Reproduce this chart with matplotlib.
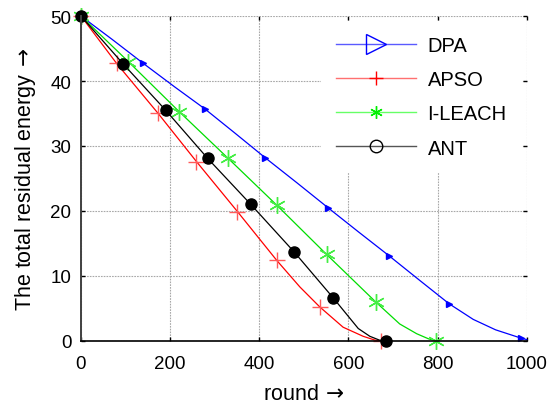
import matplotlib
matplotlib.use('Agg')
import matplotlib.pyplot as plt
from matplotlib.lines import Line2D

plt.rcParams['font.family'] = ['Liberation Sans', 'DejaVu Sans']
plt.rcParams['mathtext.fontset'] = 'dejavusans'

# data (round, residual energy)
dpa_x = [0, 70, 140, 210, 278, 345, 413, 485, 554, 622, 691, 760, 826, 880, 930, 988, 1000]
dpa_y = [50, 46.4, 42.7, 39.1, 35.7, 32.0, 28.2, 24.3, 20.5, 16.8, 13.1, 9.3, 5.7, 3.3, 1.7, 0.4, 0.2]
dpa_marks = [0, 2, 4, 6, 8, 10, 12, 15]

apso_x = [0, 80, 172, 259, 351, 439, 491, 536, 588, 633, 660, 674, 690]
apso_y = [50, 42.7, 35.1, 27.6, 19.9, 12.4, 8.3, 5.2, 2.1, 0.7, 0.1, 0, 0]
apso_marks = [0, 1, 2, 3, 4, 5, 7, 11]

ileach_x = [0, 106, 220, 330, 439, 551, 661, 715, 753, 780, 797]
ileach_y = [50, 43.0, 35.3, 28.1, 20.9, 13.3, 6.0, 2.6, 1.1, 0.3, 0]
ileach_marks = [0, 1, 2, 3, 4, 5, 6, 10]

ant_x = [0, 95, 190, 284, 381, 478, 566, 622, 648, 670, 684]
ant_y = [50, 42.6, 35.5, 28.1, 21.0, 13.7, 6.6, 1.9, 0.7, 0.1, 0]
ant_marks = [0, 1, 2, 3, 4, 5, 6, 10]

x_ticks = [0, 200, 400, 600, 800, 1000]
y_ticks = [0, 10, 20, 30, 40, 50]

asterisk = (6, 2, 0)

fig = plt.figure(figsize=(5.51, 4.06), dpi=100)
ax = fig.add_axes([0.147, 0.158, 0.809, 0.800])

ax.plot(dpa_x, dpa_y, color='#0000ff', lw=0.9, marker='>', ms=5,
        mfc='#0000ff', mec='#0000ff', markevery=dpa_marks, clip_on=False)
ax.plot(apso_x, apso_y, color='#ff0000', lw=0.9, marker='+', ms=12,
        mec='#ff5a5a', mew=1.0, markevery=apso_marks, clip_on=False)
ax.plot(ileach_x, ileach_y, color='#00dd00', lw=0.9, marker=asterisk, ms=12,
        mec='#44ee44', mew=1.0, markevery=ileach_marks, clip_on=False)
ax.plot(ant_x, ant_y, color='black', lw=0.9, marker='o', ms=8,
        mfc='black', mec='black', markevery=ant_marks, clip_on=False)

ax.set_xlim(0, 1000)
ax.set_ylim(0, 50)
ax.set_xticks(x_ticks)
ax.set_yticks(y_ticks)
ax.grid(True, color='#a8a8a8', linestyle=(0, (1.5, 1)), linewidth=0.8)
ax.set_axisbelow(True)
for side in ['top', 'right']:
    ax.spines[side].set_visible(False)
ax.spines['left'].set_color('#404040')
ax.spines['left'].set_linewidth(1.4)
ax.spines['bottom'].set_color('black')
ax.spines['bottom'].set_linewidth(1.2)
ax.tick_params(direction='in', top=True, right=True, length=3, width=1,
               labelsize=13.5)
ax.tick_params(axis='x', pad=10)
ax.tick_params(axis='y', pad=7)

ax.set_xlabel(r'round$\,\rightarrow$', fontsize=15.5, labelpad=8)
ax.set_ylabel(r'The total residual energy$\,\rightarrow$', fontsize=15.5, labelpad=9)

handles = [
    Line2D([], [], color='#5a5aff', lw=1, marker='>', ms=14, mfc='none', mec='#0000ff'),
    Line2D([], [], color='#ff7070', lw=1, marker='+', ms=10, mec='#ff0000'),
    Line2D([], [], color='#66ff66', lw=1, marker=asterisk, ms=9, mec='#00ee00'),
    Line2D([], [], color='#555555', lw=1, marker='o', ms=9, mfc='none', mec='black'),
]
leg = ax.legend(handles, ['DPA', 'APSO', 'I-LEACH', 'ANT'], loc='upper right',
                fontsize=14.5, frameon=True, handlelength=4.0, handletextpad=0.55,
                labelspacing=0.75, borderaxespad=0.25, borderpad=0.75)
leg.get_frame().set_edgecolor('none')
leg.get_frame().set_facecolor('white')
leg.get_frame().set_alpha(1)

fig.savefig('out.png', dpi=100)
